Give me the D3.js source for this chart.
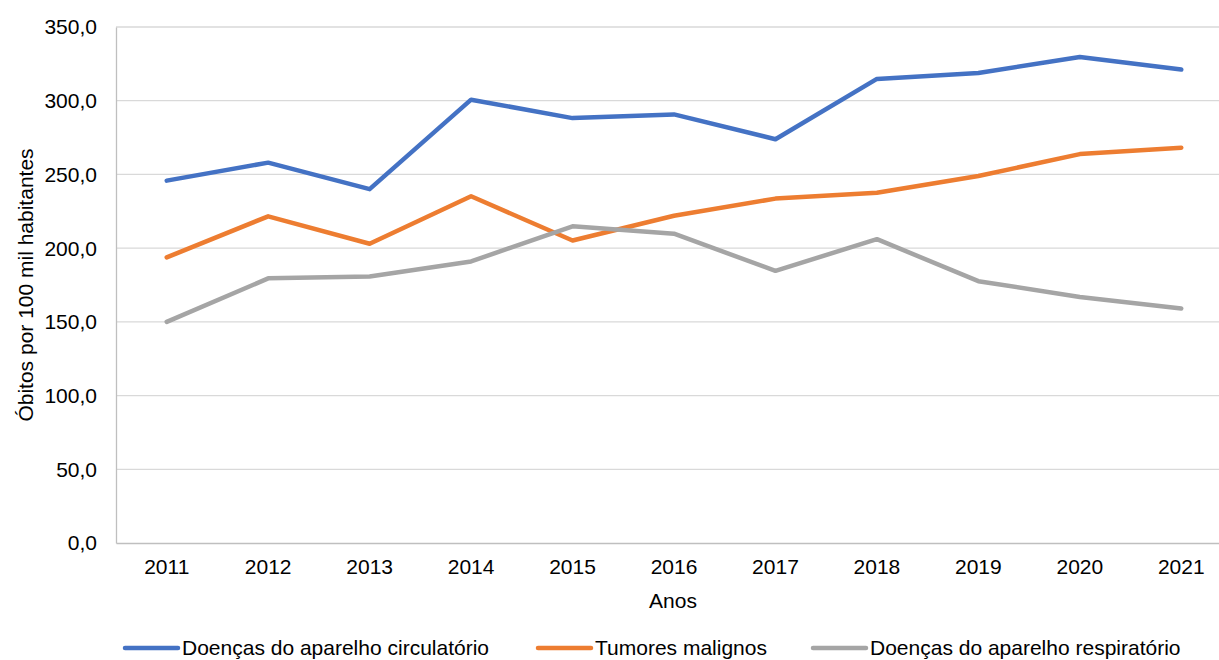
<!DOCTYPE html>
<html>
<head>
<meta charset="utf-8">
<script src="https://cdn.jsdelivr.net/npm/d3@7"></script>
<style>
    body { margin: 0; background: #fff; }
    svg text { font-family: "Liberation Sans", Arial, sans-serif; fill: #000; }
</style>
</head>
<body>
<svg id="chart" width="1219" height="660"></svg>
<script>
// chart values
const years = ['2011', '2012', '2013', '2014', '2015', '2016', '2017', '2018', '2019', '2020', '2021'];
const circulatorio = [245.8, 258.0, 240.0, 300.7, 288.2, 290.7, 273.9, 314.8, 318.8, 329.7, 321.1];
const tumores = [193.7, 221.6, 203.0, 235.2, 205.2, 222.0, 233.6, 237.6, 248.9, 263.8, 268.1];
const respiratorio = [150.0, 179.5, 180.8, 191.0, 214.8, 209.8, 184.6, 206.1, 177.6, 166.9, 159.0];
const yTicks = [0, 50, 100, 150, 200, 250, 300, 350];

const series = [
    {name: 'Doenças do aparelho circulatório', values: circulatorio, color: '#4472C4'},
    {name: 'Tumores malignos', values: tumores, color: '#ED7D31'},
    {name: 'Doenças do aparelho respiratório', values: respiratorio, color: '#A5A5A5'}
];

const LEFT = 116, RIGHT = 1232, TOP = 27, BOTTOM = 543;
const FONT = '21px';

const svg = d3.select('#chart');

const x = d3.scaleBand()
    .domain(years)
    .range([LEFT, RIGHT]);
const y = d3.scaleLinear()
    .domain([0, 350])
    .range([BOTTOM, TOP]);

const fmt = d => d3.format('.1f')(d).replace('.', ',');

// gridlines
svg.append('g')
    .selectAll('line')
    .data(yTicks.filter(d => d > 0))
    .enter()
    .append('line')
    .attr('x1', LEFT).attr('x2', RIGHT)
    .attr('y1', d => y(d)).attr('y2', d => y(d))
    .style('stroke', '#D9D9D9')
    .style('stroke-width', 1.3);

// y axis
const yAxis = svg.append('g')
    .attr('transform', 'translate(' + LEFT + ',0)')
    .call(d3.axisLeft(y).tickValues(yTicks).tickFormat(fmt).tickSize(0).tickPadding(19));
yAxis.select('.domain').style('stroke', '#BFBFBF').style('stroke-width', 1.3);
yAxis.selectAll('text').style('font-size', FONT).attr('dy', '0.33em');

// x axis
const xAxis = svg.append('g')
    .attr('transform', 'translate(0,' + BOTTOM + ')')
    .call(d3.axisBottom(x).tickSize(0).tickPadding(16));
xAxis.select('.domain').style('stroke', '#BFBFBF').style('stroke-width', 1.3);
xAxis.selectAll('text').style('font-size', FONT);

// lines
const line = d3.line()
    .x((d, i) => x(years[i]) + x.bandwidth() / 2)
    .y(d => y(d));

svg.append('g')
    .selectAll('path')
    .data(series)
    .enter()
    .append('path')
    .attr('d', d => line(d.values))
    .style('fill', 'none')
    .style('stroke', d => d.color)
    .style('stroke-width', 4.5)
    .style('stroke-linecap', 'round')
    .style('stroke-linejoin', 'round');

// axis titles
svg.append('text')
    .attr('x', 673).attr('y', 608)
    .attr('text-anchor', 'middle')
    .style('font-size', FONT)
    .text('Anos');

svg.append('text')
    .attr('transform', 'translate(33,' + ((TOP + BOTTOM) / 2) + ') rotate(-90)')
    .attr('text-anchor', 'middle')
    .style('font-size', FONT)
    .text('Óbitos por 100 mil habitantes');

// legend
const legendX = [125, 538, 813];
const legend = svg.append('g')
    .selectAll('g')
    .data(series)
    .enter()
    .append('g')
    .attr('transform', (d, i) => 'translate(' + legendX[i] + ',648)');

legend.append('line')
    .attr('x1', 0).attr('x2', 53)
    .style('stroke', d => d.color)
    .style('stroke-width', 4.5)
    .style('stroke-linecap', 'round');

legend.append('text')
    .attr('x', 57).attr('dy', '0.35em')
    .style('font-size', FONT)
    .text(d => d.name);
</script>
</body>
</html>
